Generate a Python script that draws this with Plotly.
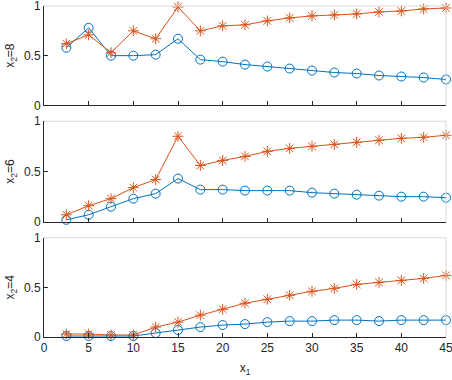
import plotly.graph_objects as go
from plotly.subplots import make_subplots

x1 = [2.5, 5, 7.5, 10, 12.5, 15, 17.5, 20, 22.5, 25, 27.5, 30, 32.5, 35, 37.5, 40, 42.5, 45]

# x2 = 8
blue_8 = [0.58, 0.78, 0.50, 0.50, 0.51, 0.67, 0.46, 0.44, 0.41, 0.39, 0.37, 0.35, 0.33, 0.32, 0.30, 0.29, 0.28, 0.26]
red_8 = [0.62, 0.71, 0.53, 0.75, 0.67, 0.99, 0.75, 0.80, 0.81, 0.85, 0.88, 0.90, 0.91, 0.92, 0.94, 0.95, 0.97, 0.98]
# x2 = 6
blue_6 = [0.02, 0.07, 0.15, 0.23, 0.28, 0.43, 0.32, 0.32, 0.31, 0.31, 0.31, 0.29, 0.28, 0.27, 0.26, 0.25, 0.25, 0.24]
red_6 = [0.07, 0.16, 0.23, 0.34, 0.42, 0.85, 0.56, 0.61, 0.65, 0.70, 0.73, 0.75, 0.77, 0.79, 0.81, 0.83, 0.84, 0.86]
# x2 = 4
blue_4 = [0.01, 0.01, 0.01, 0.01, 0.04, 0.07, 0.10, 0.12, 0.13, 0.15, 0.16, 0.16, 0.17, 0.17, 0.16, 0.17, 0.17, 0.17]
red_4 = [0.03, 0.03, 0.02, 0.02, 0.10, 0.15, 0.22, 0.28, 0.34, 0.38, 0.42, 0.46, 0.49, 0.53, 0.55, 0.57, 0.59, 0.62]

panels = [("x<sub>2</sub>=8", blue_8, red_8),
          ("x<sub>2</sub>=6", blue_6, red_6),
          ("x<sub>2</sub>=4", blue_4, red_4)]

BLUE = "#0072BD"
RED = "#D95319"
TXT = "#262626"

fig = make_subplots(rows=3, cols=1, shared_xaxes=True)

for i, (label, b, r) in enumerate(panels, start=1):
    fig.add_trace(go.Scatter(x=x1, y=b, mode="lines+markers", cliponaxis=False,
                             line=dict(color=BLUE, width=1),
                             marker=dict(symbol="circle-open", size=9, color=BLUE, line=dict(width=1))),
                  row=i, col=1)
    fig.add_trace(go.Scatter(x=x1, y=r, mode="lines+markers", cliponaxis=False,
                             line=dict(color=RED, width=1),
                             marker=dict(symbol="asterisk-open", size=9, color=RED, line=dict(width=1, color=RED))),
                  row=i, col=1)
    fig.update_yaxes(title_text=label, title_standoff=6, row=i, col=1)

domains = [[0.700, 1.0], [0.348, 0.652], [0.0, 0.300]]
for i, d in enumerate(domains, start=1):
    fig.update_yaxes(domain=d, row=i, col=1)

fig.update_yaxes(range=[0, 1], tickvals=[0, 0.5, 1], ticktext=["0", "0.5", "1"], automargin=False,
                 ticks="inside", ticklen=4, tickcolor=TXT, showgrid=False, zeroline=False,
                 showline=True, linecolor=TXT, linewidth=1, mirror=False, ticklabeloverflow="allow",
                 tickfont=dict(size=12, color=TXT), title_font=dict(size=12, color=TXT))
fig.update_xaxes(range=[0, 45], tickvals=list(range(0, 50, 5)), automargin=False,
                 ticks="inside", ticklen=4, tickcolor=TXT, showgrid=False, zeroline=False,
                 showline=True, linecolor=TXT, linewidth=1, ticklabeloverflow="allow",
                 tickfont=dict(size=12, color=TXT))
fig.update_xaxes(title_text="x<sub>1</sub>", title_standoff=9, title_font=dict(size=12, color=TXT), row=3, col=1)

# light box on top and right of each panel
for i, d in enumerate(domains, start=1):
    yref = "y domain" if i == 1 else "y%d domain" % i
    xref = "x domain" if i == 1 else "x%d domain" % i
    fig.add_shape(type="line", xref=xref, yref=yref, x0=0, x1=1, y0=1, y1=1,
                  line=dict(color="#d9d9d9", width=1))
    fig.add_shape(type="line", xref=xref, yref=yref, x0=1, x1=1, y0=0, y1=1,
                  line=dict(color="#d9d9d9", width=1))

fig.update_layout(width=452, height=380, showlegend=False,
                  margin=dict(l=44, r=6, t=6, b=43),
                  plot_bgcolor="white", paper_bgcolor="white",
                  font=dict(family="Liberation Sans, Arial, sans-serif", size=12, color=TXT))

fig.write_html("out.html", config={"displayModeBar": False},
               post_script="document.body.style.margin='0';")
